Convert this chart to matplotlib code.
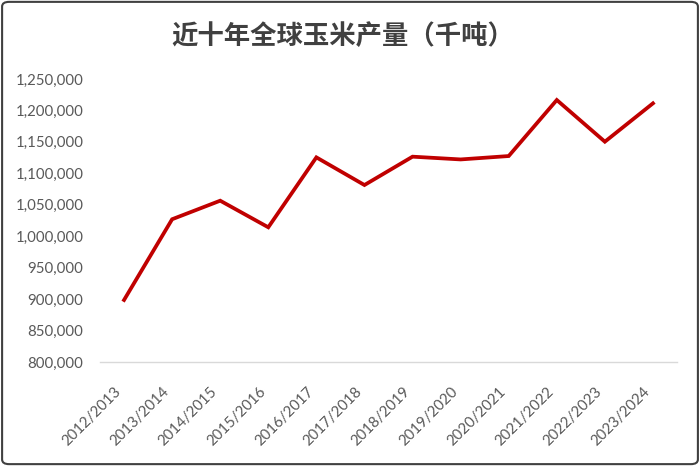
import matplotlib
matplotlib.use('Agg')
import matplotlib.pyplot as plt
from matplotlib.patches import FancyBboxPatch
from matplotlib.ticker import FuncFormatter

plt.rcParams['font.family'] = ['Lato', 'Noto Sans CJK SC', 'DejaVu Sans']

seasons = ['2012/2013', '2013/2014', '2014/2015', '2015/2016', '2016/2017', '2017/2018',
           '2018/2019', '2019/2020', '2020/2021', '2021/2022', '2022/2023', '2023/2024']
output = [898600, 1027000, 1056500, 1014200, 1125400, 1081400,
          1126500, 1122100, 1127500, 1216600, 1150300, 1211300]
yticks = [800000, 850000, 900000, 950000, 1000000, 1050000, 1100000, 1150000, 1200000, 1250000]

fig = plt.figure(figsize=(7, 4.66), dpi=100)
ax = fig.add_axes([100/700, 1-362/466, 577/700, 283/466])

x = range(len(seasons))
ax.plot(x, output, color='#c00000', lw=2.7, solid_joinstyle='miter')

ax.set_xlim(-0.5, len(seasons)-0.5)
ax.set_ylim(800000, 1250000)
ax.set_yticks(yticks)
ax.yaxis.set_major_formatter(FuncFormatter(lambda v, p: '{:,.0f}'.format(v)))
ax.set_xticks(list(x))
ax.set_xticklabels(seasons, rotation=45, ha='right', va='top')

for s in ['top', 'right', 'left']:
    ax.spines[s].set_visible(False)
ax.spines['bottom'].set_color('#d9d9d9')
ax.spines['bottom'].set_linewidth(1)
ax.tick_params(axis='both', length=0, colors='#595959', labelsize=10.8)
ax.tick_params(axis='y', pad=12)
ax.tick_params(axis='x', pad=16)

fig.text(343/700, 1-36/466, '近十年全球玉米产量（千吨）', ha='center', va='center',
         fontsize=19, fontweight='bold', color='#404040', family=['Noto Sans CJK SC', 'DejaVu Sans'])

border = FancyBboxPatch((0.003, 0.004), 0.994, 0.992, boxstyle='round,pad=0,rounding_size=0.01',
                        transform=fig.transFigure, fill=False, edgecolor='#404040', lw=1.5)
fig.patches.append(border)

fig.savefig('out.png', dpi=100)
